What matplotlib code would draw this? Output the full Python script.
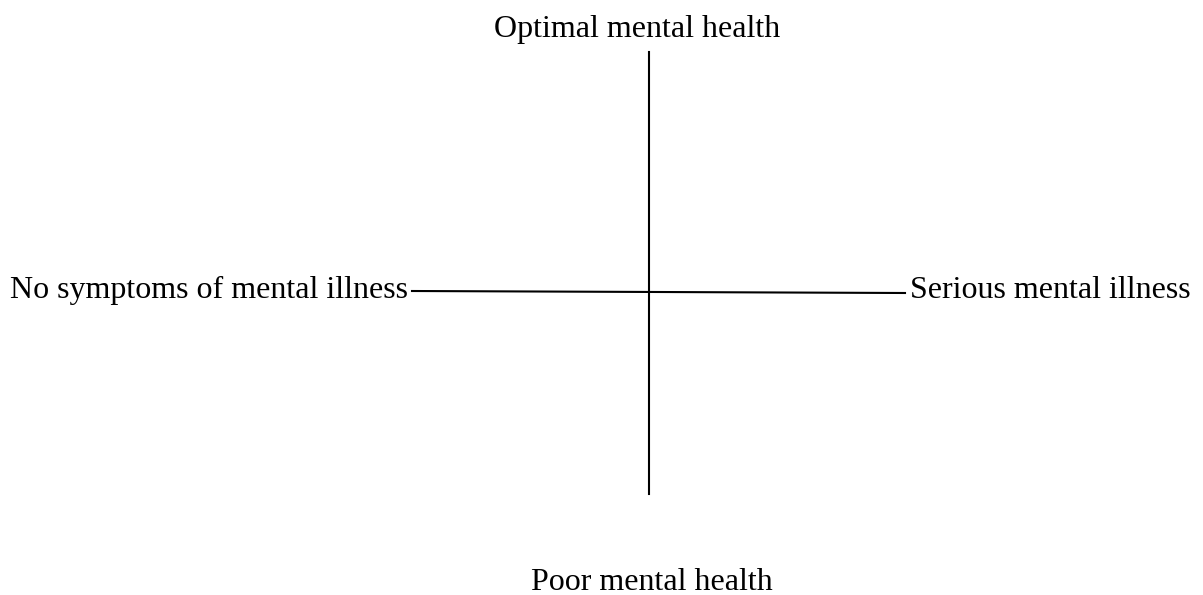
import matplotlib.pyplot as plt

# Diagram layout in pixel units (figure is 1203 x 595)
x_axis_ends = [412, 905]
x_axis_levels = [291, 293]
y_axis_pos = [649, 649]
y_axis_ends = [52, 494]

top_label = 'Optimal mental health'
bottom_label = 'Poor mental health'
left_label = 'No symptoms of mental illness'
right_label = 'Serious mental illness'

plt.rcParams['font.family'] = ['Liberation Serif', 'DejaVu Serif']

fig = plt.figure(figsize=(12.03, 5.95), dpi=100)
ax = fig.add_axes([0, 0, 1, 1])
ax.set_xlim(0, 1203)
ax.set_ylim(595, 0)
ax.axis('off')

ax.plot(x_axis_ends, x_axis_levels, color='black', lw=1.5)
ax.plot(y_axis_pos, y_axis_ends, color='black', lw=1.5)

fs = 23
ax.text(637, 29, top_label, ha='center', va='center', fontsize=fs)
ax.text(652, 582, bottom_label, ha='center', va='center', fontsize=fs)
ax.text(408, 290, left_label, ha='right', va='center', fontsize=fs)
ax.text(910, 290, right_label, ha='left', va='center', fontsize=fs)

fig.savefig('out.png', dpi=100)
